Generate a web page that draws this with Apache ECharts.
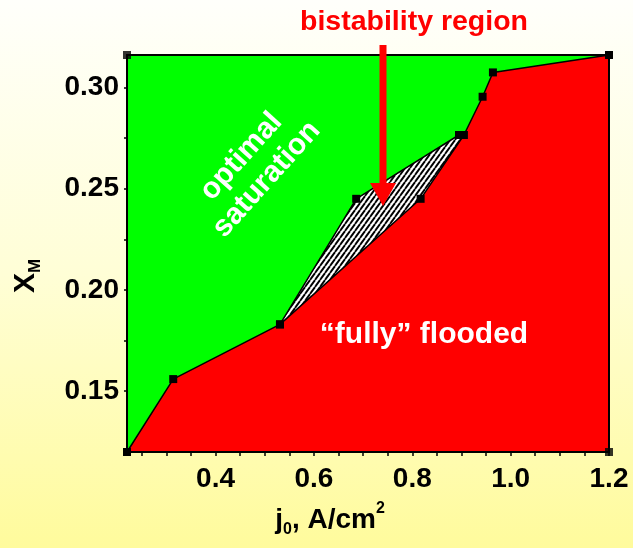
<!DOCTYPE html>
<html>
<head>
<meta charset="utf-8">
<script src="https://cdn.jsdelivr.net/npm/echarts@6/dist/echarts.min.js"></script>
<style>
  html, body { margin: 0; padding: 0; }
  #chart { width: 633px; height: 548px; }
</style>
</head>
<body>
<div id="chart"></div>
<script>
// Saturation / flooding boundary: current density j0 (A/cm^2) vs. X_M
const lowerJ = [0.22, 0.314, 0.531, 0.817, 0.905, 0.943, 0.964, 1.2];
const lowerX = [0.12, 0.156, 0.183, 0.245, 0.2765, 0.2954, 0.3074, 0.316];
// upper branch bounding the bistable window
const upperJ = [0.531, 0.686, 0.895];
const upperX = [0.183, 0.245, 0.2765];
// points on the frame corners
const cornerJ = [0.22, 1.2];
const cornerX = [0.316, 0.12];
// axis labels and ticks
const xLabels = [0.4, 0.6, 0.8, 1.0, 1.2];
const xMinorTicks = [0.25, 0.3, 0.35, 0.4, 0.45, 0.5, 0.55, 0.6, 0.65, 0.7, 0.75, 0.8, 0.85, 0.9, 0.95, 1.0, 1.05, 1.1, 1.15, 1.2];
const yLabels = [0.15, 0.20, 0.25, 0.30];
const yMinorTicks = [0.15, 0.175, 0.2, 0.225, 0.25, 0.275, 0.3];
const J_MIN = 0.22, J_MAX = 1.2, X_MIN = 0.12, X_MAX = 0.316;

const FONT = '"Liberation Sans", Arial, Helvetica, sans-serif';
const zip = (a, b) => a.map((v, i) => [v, b[i]]);

const lowerPts = zip(lowerJ, lowerX);
const upperPts = zip(upperJ, upperX);
const greenPoly = [[J_MIN, X_MIN], [J_MIN, X_MAX], [J_MAX, X_MAX], [J_MAX, X_MIN]];
const redPoly = lowerPts.concat([[J_MAX, X_MIN]]);
// bistable window: up along the upper branch, back down the lower one
const hatchPoly = upperPts.concat(lowerPts.slice(3, 5).reverse());

// striped fill for the bistable window
const stripe = document.createElement('canvas');
stripe.width = 5; stripe.height = 7;
(function () {
  const g = stripe.getContext('2d');
  g.fillStyle = '#ffffff';
  g.fillRect(0, 0, 5, 7);
  g.strokeStyle = '#000000';
  g.lineWidth = 1.9;
  for (let k = -2; k <= 2; k++) {
    g.beginPath();
    g.moveTo(k * 5, 7);
    g.lineTo(k * 5 + 5, 0);
    g.stroke();
  }
})();

function polygonSeries(name, pts, fill, z) {
  return {
    name, type: 'custom', coordinateSystem: 'cartesian2d', z, silent: true,
    data: [0],
    renderItem: (params, api) => ({
      type: 'polygon',
      shape: { points: pts.map(p => api.coord(p)) },
      style: { fill: fill, stroke: null }
    })
  };
}

const mctx = document.createElement('canvas').getContext('2d');
function textWidth(t, size) {
  mctx.font = `bold ${size}px ${FONT}`;
  return mctx.measureText(t).width;
}
// a line of text with sub/superscripts, centred on (cx, cy)
function textRun(parts, cx, cy, rotation, color) {
  const total = parts.reduce((s, p) => s + textWidth(p.t, p.s), 0);
  let x = -total / 2;
  const children = [];
  parts.forEach(p => {
    children.push({
      type: 'text', x: x, y: p.dy || 0,
      style: {
        text: p.t, font: `bold ${p.s}px ${FONT}`, fill: color || '#000',
        textAlign: 'left', textVerticalAlign: 'middle', align: 'left', verticalAlign: 'middle'
      }
    });
    x += textWidth(p.t, p.s);
  });
  return { type: 'group', x: cx, y: cy, rotation: rotation || 0, children };
}

const chart = echarts.init(document.getElementById('chart'), null, { renderer: 'canvas' });

const axisCommon = {
  type: 'value',
  z: 5,
  splitLine: { show: false },
  axisLine: { show: true, onZero: false, lineStyle: { color: '#000', width: 2 } }
};

const option = {
  animation: false,
  backgroundColor: {
    type: 'linear', x: 0, y: 0, x2: 0, y2: 1,
    colorStops: [
      { offset: 0, color: '#fffffb' },
      { offset: 0.5, color: '#fffed6' },
      { offset: 1, color: '#fffb9c' }
    ]
  },
  grid: { left: 127, right: 24, top: 55, bottom: 96, containLabel: false },
  xAxis: [
    Object.assign({}, axisCommon, {
      min: J_MIN, max: J_MAX, position: 'bottom',
      axisTick: { show: true, customValues: xMinorTicks, length: 4, inside: false, lineStyle: { color: '#000', width: 1.5 } },
      axisLabel: {
        show: true, customValues: xLabels, formatter: v => v.toFixed(1),
        fontSize: 28, fontWeight: 'bold', fontFamily: FONT, color: '#000', margin: 13
      }
    }),
    Object.assign({}, axisCommon, {
      min: J_MIN, max: J_MAX, position: 'top',
      axisTick: { show: false }, axisLabel: { show: false }
    })
  ],
  yAxis: [
    Object.assign({}, axisCommon, {
      min: X_MIN, max: X_MAX, position: 'left',
      axisTick: { show: true, customValues: yMinorTicks, length: 3, inside: false, lineStyle: { color: '#000', width: 1.5 } },
      axisLabel: {
        show: true, customValues: yLabels, formatter: v => v.toFixed(2),
        fontSize: 28, fontWeight: 'bold', fontFamily: FONT, color: '#000', margin: 8
      }
    }),
    Object.assign({}, axisCommon, {
      min: X_MIN, max: X_MAX, position: 'right',
      axisTick: { show: false }, axisLabel: { show: false }
    })
  ],
  series: [
    polygonSeries('optimal saturation', greenPoly, '#00ff00', 1),
    polygonSeries('fully flooded', redPoly, '#ff0000', 2),
    polygonSeries('bistability', hatchPoly, { image: stripe, repeat: 'repeat' }, 3),
    {
      name: 'lower boundary', type: 'line', z: 6, data: lowerPts,
      symbol: 'rect', symbolSize: 8, showSymbol: true,
      itemStyle: { color: '#000' }, lineStyle: { color: '#000', width: 1.5 },
      silent: true
    },
    {
      name: 'upper boundary', type: 'line', z: 6, data: upperPts,
      symbol: 'rect', symbolSize: 8, showSymbol: true,
      itemStyle: { color: '#000' }, lineStyle: { color: '#000', width: 1.5 },
      silent: true
    },
    {
      name: 'corners', type: 'scatter', z: 7, data: zip(cornerJ, cornerX),
      symbol: 'rect', symbolSize: 8, itemStyle: { color: '#000' }, silent: true
    }
  ]
};
chart.setOption(option);

// annotations
chart.setOption({
  graphic: [
    // arrow pointing into the bistable window
    {
      type: 'polygon', z: 20,
      shape: { points: [[379.5, 45], [386.5, 45], [386.5, 183], [396, 183], [383, 206], [370, 183], [379.5, 183]] },
      style: { fill: '#ff0000' }
    },
    {
      type: 'text', z: 20, x: 414, y: 22,
      style: {
        text: 'bistability region', font: `bold 28.5px ${FONT}`, fill: '#ff0000',
        textAlign: 'center', textVerticalAlign: 'middle', align: 'center', verticalAlign: 'middle'
      }
    },
    {
      type: 'text', z: 20, x: 424, y: 335,
      style: {
        text: '\u201cfully\u201d flooded', font: `bold 30px ${FONT}`, fill: '#ffffff',
        textAlign: 'center', textVerticalAlign: 'middle', align: 'center', verticalAlign: 'middle'
      }
    },
    {
      type: 'text', z: 20, x: 254, y: 168, rotation: 48 * Math.PI / 180,
      style: {
        text: 'optimal\nsaturation', font: `bold 30px ${FONT}`, fill: '#ffffff', lineHeight: 34,
        textAlign: 'center', textVerticalAlign: 'middle', align: 'center', verticalAlign: 'middle'
      }
    },
    textRun([{ t: 'j', s: 28 }, { t: '0', s: 16, dy: 10 }, { t: ', A/cm', s: 28 }, { t: '2', s: 16, dy: -11 }], 330, 520, 0),
    textRun([{ t: 'X', s: 30 }, { t: 'M', s: 17, dy: 9 }], 26, 276, Math.PI / 2)
  ]
});
</script>
</body>
</html>
